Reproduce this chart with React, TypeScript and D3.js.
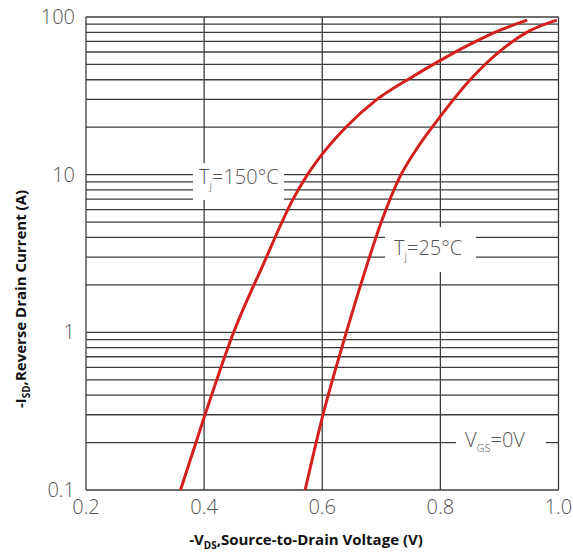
import React from "react";
import * as d3 from "d3";

const xTicks = [0.2, 0.4, 0.6, 0.8, 1.0];
const xTickLabels = ["0.2", "0.4", "0.6", "0.8", "1.0"];
const yTicks = [0.1, 1, 10, 100];
const yTickLabels = ["0.1", "1", "10", "100"];

const v150 = [0.36, 0.4, 0.45, 0.5, 0.55, 0.575, 0.6, 0.64, 0.69, 0.75, 0.8, 0.86, 0.9, 0.947];
const i150 = [0.1, 0.288, 1.0, 2.69, 6.92, 10, 13.5, 20, 29.5, 41.2, 53.1, 70, 82.2, 95.5];
const v25 = [0.571, 0.6, 0.64, 0.67, 0.7, 0.73, 0.76, 0.8, 0.85, 0.9, 0.95, 0.997];
const i25 = [0.1, 0.288, 0.977, 2.29, 5.01, 9.44, 14.6, 23.4, 39.8, 60.3, 81.3, 95.5];

const W = 573;
const H = 553;
const L = 86, R = 558.5, T = 17, B = 490;

export default function App() {
  const x = d3.scaleLinear().domain([0.2, 1.0]).range([L, R]);
  const y = d3.scaleLog().domain([0.1, 100]).range([B, T]);

  const minor: number[] = [];
  for (const dec of [0.1, 1, 10]) {
    for (let k = 1; k <= 9; k++) minor.push(dec * k);
  }
  minor.push(100);

  const line = d3
    .line<[number, number]>()
    .x((d) => x(d[0]))
    .y((d) => y(d[1]))
    .curve(d3.curveMonotoneX);

  const d150 = line(v150.map((v, i) => [v, i150[i]] as [number, number])) || "";
  const d25 = line(v25.map((v, i) => [v, i25[i]] as [number, number])) || "";

  const grid = "#3d3d3d";
  const tickColor = "#555";
  const tickFont = "'Open Sans', 'Noto Sans', sans-serif";
  const red = "#d4201c";

  return (
    <svg width={W} height={H} style={{ position: "absolute", left: 0, top: 0, background: "#fff" }}>
      {minor.map((v, i) => (
        <line key={"h" + i} x1={L} x2={R} y1={y(v)} y2={y(v)} stroke={grid} strokeWidth={1.3} />
      ))}
      {xTicks.map((v, i) => (
        <line key={"v" + i} x1={x(v)} x2={x(v)} y1={T} y2={B} stroke={grid} strokeWidth={1.3} />
      ))}

      <rect x={193} y={163} width={91} height={37} fill="#fff" />
      <rect x={385} y={227} width={91} height={45} fill="#fff" />
      <rect x={456} y={425} width={90} height={40} fill="#fff" />

      <path d={d150} fill="none" stroke={red} strokeWidth={3} />
      <path d={d25} fill="none" stroke={red} strokeWidth={3} />

      <text x={199} y={184} fontFamily={tickFont} fontWeight={300} fontSize={20} fill={tickColor}>
        T<tspan fontSize={11} dy={5}>j</tspan>
        <tspan dy={-5}>=150°C</tspan>
      </text>
      <text x={394} y={255} fontFamily={tickFont} fontWeight={300} fontSize={20} fill={tickColor}>
        T<tspan fontSize={11} dy={5}>j</tspan>
        <tspan dy={-5}>=25°C</tspan>
      </text>
      <text x={465} y={447} fontFamily={tickFont} fontWeight={300} fontSize={20} fill={tickColor}>
        V<tspan fontSize={11} dy={5}>GS</tspan>
        <tspan dy={-5}>=0V</tspan>
      </text>

      {yTicks.map((v, i) => (
        <text
          key={"yt" + i}
          x={75}
          y={y(v)}
          dy="0.35em"
          textAnchor="end"
          fontFamily={tickFont}
          fontWeight={300}
          fontSize={20}
          fill={tickColor}
        >
          {yTickLabels[i]}
        </text>
      ))}
      {xTicks.map((v, i) => (
        <text
          key={"xt" + i}
          x={x(v)}
          y={514}
          textAnchor="middle"
          fontFamily={tickFont}
          fontWeight={300}
          fontSize={20}
          fill={tickColor}
        >
          {xTickLabels[i]}
        </text>
      ))}

      <text x={306} y={545} textAnchor="middle" fontFamily={tickFont} fontWeight={700} fontSize={15} fill="#111">
        -V<tspan fontSize={10} dy={4}>DS</tspan>
        <tspan dy={-4}>,Source-to-Drain Voltage (V)</tspan>
      </text>
      <text
        transform="translate(26,299) rotate(-90)"
        textAnchor="middle"
        fontFamily={tickFont}
        fontWeight={700}
        fontSize={15}
        fill="#111"
      >
        -I<tspan fontSize={10} dy={4}>SD</tspan>
        <tspan dy={-4}>,Reverse Drain Current (A)</tspan>
      </text>
    </svg>
  );
}
